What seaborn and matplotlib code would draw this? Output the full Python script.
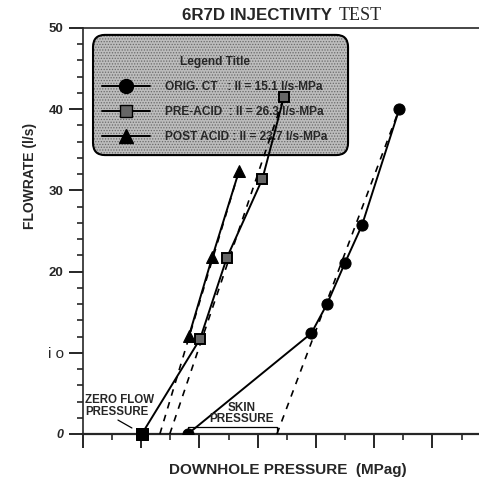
import matplotlib
matplotlib.use("Agg")
import matplotlib.pyplot as plt
from matplotlib.lines import Line2D
from matplotlib.patches import FancyBboxPatch
import seaborn as sns
import numpy as np

# ---- data (flowrate l/s vs downhole pressure, x in arbitrary MPa offset units) ----
orig_x = [1.80, 3.92, 4.19, 4.50, 4.79, 5.43]
orig_y = [0.0, 12.4, 16.0, 21.1, 25.7, 40.0]
pre_x = [1.01, 2.01, 2.47, 3.08, 3.45]
pre_y = [0.0, 11.7, 21.7, 31.4, 41.5]
post_x = [1.82, 2.22, 2.68]
post_y = [12.1, 21.8, 32.4]
# extrapolated (dashed) injectivity lines: zero-flow intercept -> top point
orig_fit_x = [3.33, 5.43]
orig_fit_y = [0.0, 40.0]
pre_fit_x = [1.49, 3.45]
pre_fit_y = [0.0, 41.5]
post_fit_x = [1.32, 2.68]
post_fit_y = [0.0, 32.4]

legend_labels = ["ORIG. CT   : II = 15.1 l/s-MPa",
                 "PRE-ACID  : II = 26.3 l/s-MPa",
                 "POST ACID : II = 23.7 l/s-MPa"]
ytick_vals = [0, 10, 20, 30, 40, 50]
ytick_labels = ["0", "i o", "20", "30", "40", "50"]

sns.set_style("ticks")
plt.rcParams["font.family"] = ["Liberation Sans", "DejaVu Sans"]
plt.rcParams["hatch.linewidth"] = 0.6

fig = plt.figure(figsize=(4.79, 4.90), dpi=100)
ax = fig.add_axes([83 / 479, 1 - 434 / 490, 396 / 479, 406 / 490])

lw = 1.4
# dashed extrapolations
for fx, fy in [(orig_fit_x, orig_fit_y), (pre_fit_x, pre_fit_y), (post_fit_x, post_fit_y)]:
    sns.lineplot(x=fx, y=fy, ax=ax, color="k", lw=1.2, linestyle=(0, (4, 4)),
                 sort=False, zorder=3)

sns.lineplot(x=orig_x, y=orig_y, ax=ax, color="k", lw=lw, marker="o", markersize=8,
             markerfacecolor="k", markeredgecolor="k", sort=False, zorder=4)
sns.lineplot(x=pre_x, y=pre_y, ax=ax, color="k", lw=lw, marker="s", markersize=7,
             markerfacecolor="#666666", markeredgecolor="k", markeredgewidth=1.4,
             sort=False, zorder=4)
sns.scatterplot(x=pre_x[:1], y=pre_y[:1], ax=ax, color="k", marker="s", s=80,
                edgecolor="k", zorder=5, clip_on=False)
sns.lineplot(x=post_x, y=post_y, ax=ax, color="k", lw=lw, marker="^", markersize=8,
             markerfacecolor="k", markeredgecolor="k", sort=False, zorder=4)

# skin pressure bracket (from zero-flow point of ORIG to extrapolated intercept)
bx = [orig_x[0], orig_x[0], orig_fit_x[0], orig_fit_x[0]]
by = [0.0, 0.9, 0.9, 0.0]
ax.plot(bx, by, color="k", lw=0.9, zorder=3)

ax.set_xlim(0, 6.8)
ax.set_ylim(0, 50)
ax.set_xticks(np.arange(0, 7, 1))
ax.set_xticks(np.arange(0.5, 7, 1), minor=True)
ax.set_xticklabels([])
ax.set_yticks(ytick_vals)
ax.set_yticks(np.arange(0, 51, 2), minor=True)
ax.set_yticklabels(ytick_labels)
for t, lab in zip(ax.get_yticklabels(), ytick_labels):
    if lab == "0":
        t.set_fontstyle("italic")
        t.set_fontweight("bold")
        t.set_fontsize(9)
    elif lab == "i o":
        t.set_fontweight("normal")
        t.set_fontsize(11)
    else:
        t.set_fontweight("bold")
        t.set_fontsize(9.5)
ax.tick_params(axis="both", which="major", direction="out", length=10, width=1.4, pad=4)
ax.tick_params(axis="both", which="minor", direction="out", length=4.5, width=1.2)
ax.spines["right"].set_visible(False)
for s in ["left", "top"]:
    ax.spines[s].set_linewidth(1.2)
ax.spines["bottom"].set_linewidth(1.6)
ax.set_xlabel("")
ax.set_ylabel("")

# labels
fig.text(30 / 479, 1 - 176 / 490, "FLOWRATE (l/s)", rotation=90, ha="center", va="center",
         fontsize=10, fontweight="bold")
fig.text(288 / 479, 1 - 470 / 490, "DOWNHOLE PRESSURE  (MPag)", ha="center", va="center",
         fontsize=11, fontweight="bold")
fig.text(182 / 479, 1 - 15 / 490, "6R7D INJECTIVITY", ha="left", va="center",
         fontsize=12.2, fontweight="bold")
fig.text(339 / 479, 1 - 15 / 490, "TEST", ha="left", va="center",
         fontsize=13, family="Liberation Serif")

# annotations
ax.text(0.04, 3.45, "ZERO FLOW\nPRESSURE", ha="left", va="center", fontsize=8.3,
        fontweight="bold", linespacing=0.95, zorder=6)
ax.plot([0.60, 0.84], [1.72, 0.74], color="k", lw=0.9)
ax.text(2.72, 2.5, "SKIN\nPRESSURE", ha="center", va="center", fontsize=8.5,
        fontweight="bold", linespacing=0.95, zorder=6)

# legend box (stippled grey, rounded)
box_kw = dict(boxstyle="round,pad=0,rounding_size=0.03", transform=ax.transAxes)
ax.add_patch(FancyBboxPatch((0.0253, 0.687), 0.644, 0.296, facecolor="#bdbdbd",
                            edgecolor="#6a6a6a", hatch="......", linewidth=0,
                            zorder=2, **box_kw))
ax.add_patch(FancyBboxPatch((0.0253, 0.687), 0.644, 0.296, fill=False,
                            edgecolor="k", linewidth=1.5, zorder=2.1, **box_kw))

handles = [
    Line2D([], [], color="k", lw=lw, marker="o", markersize=10, markerfacecolor="k"),
    Line2D([], [], color="k", lw=lw, marker="s", markersize=9, markerfacecolor="#666666",
           markeredgecolor="k"),
    Line2D([], [], color="k", lw=lw, marker="^", markersize=10, markerfacecolor="k"),
]
leg = ax.legend(handles, legend_labels, title="Legend Title", loc="upper left",
                bbox_to_anchor=(0.025, 0.955), frameon=False,
                prop=dict(weight="bold", size=8.6),
                title_fontproperties=dict(weight="bold", size=8.6),
                handlelength=4.0, labelspacing=1.1, borderpad=0.3, handletextpad=1.2)
leg.set_zorder(2.5)

fig.savefig("out.png", dpi=100)
